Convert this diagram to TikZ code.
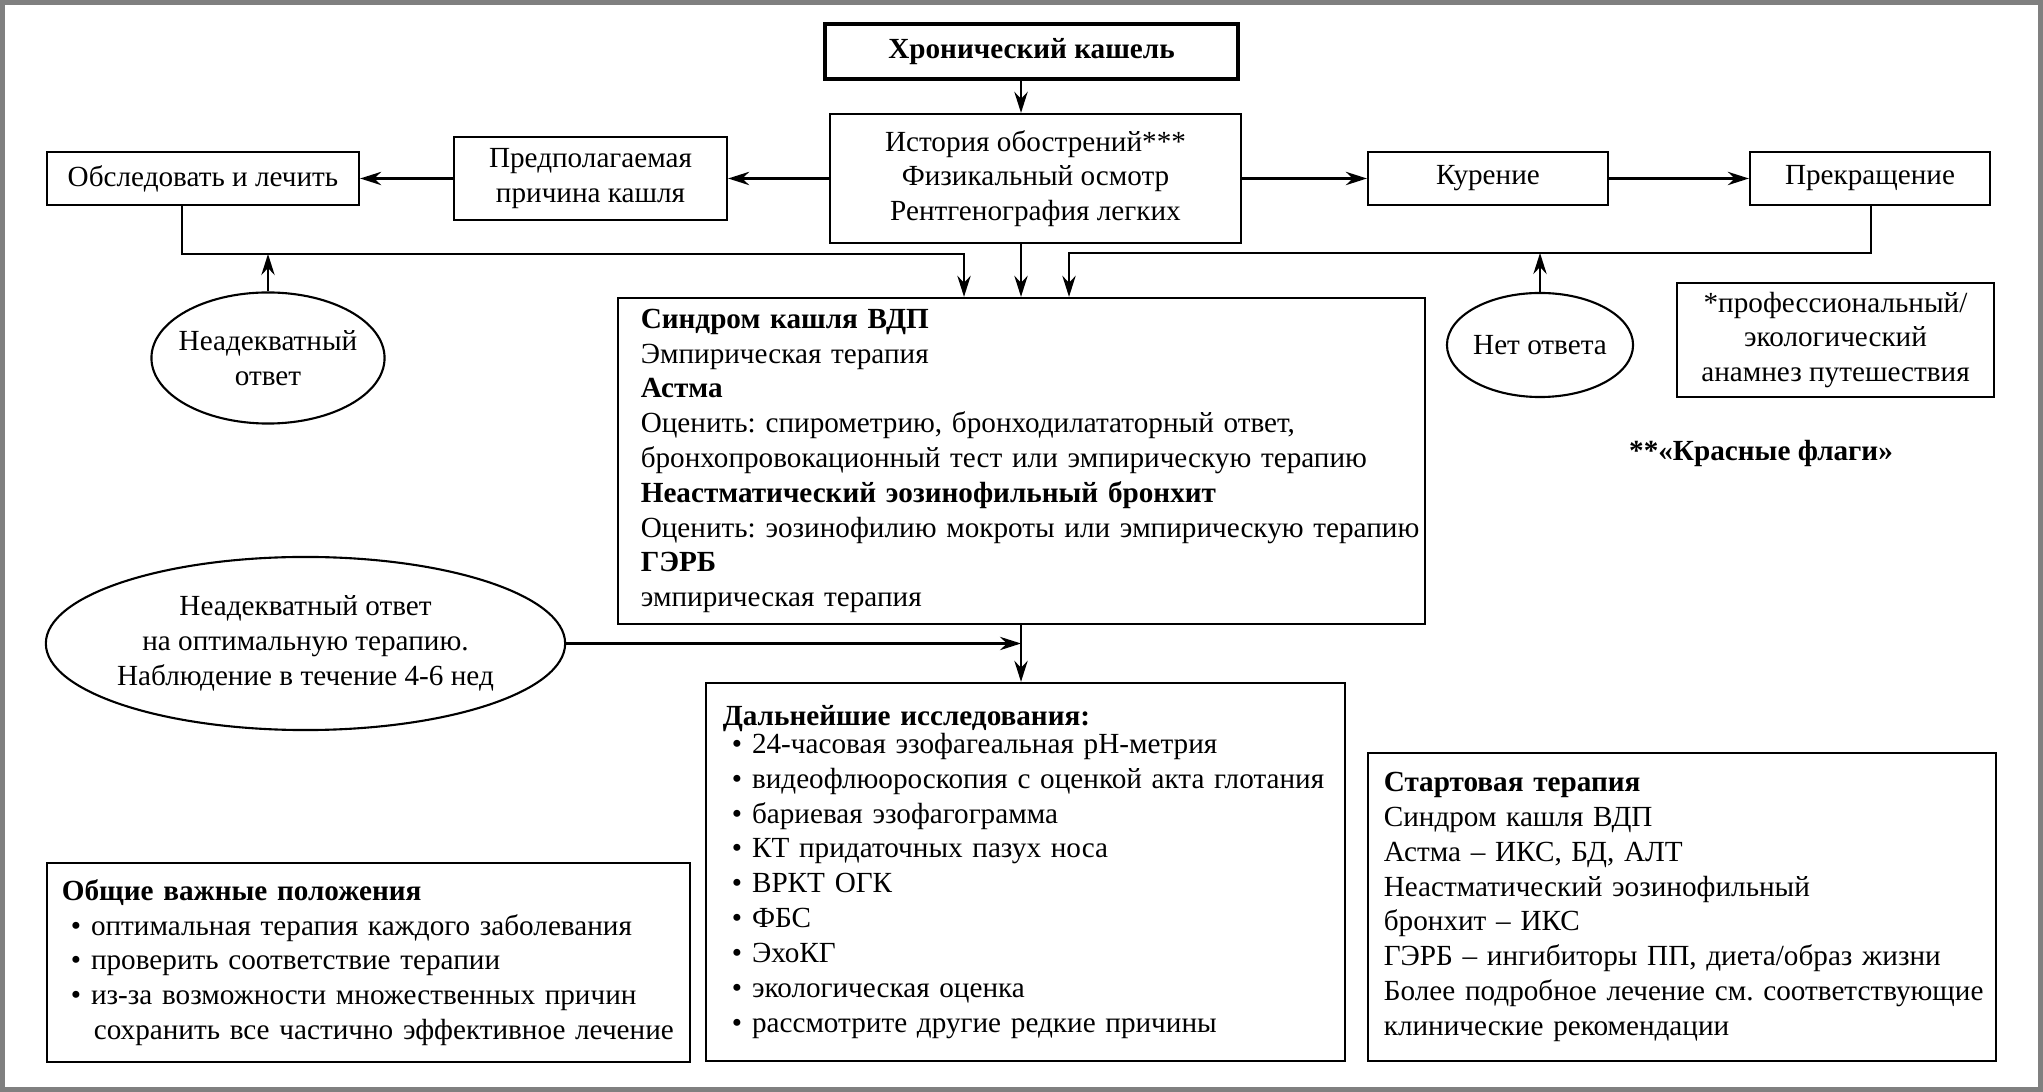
\documentclass[tikz,border=0pt]{standalone}
\usepackage{fontspec}
\setmainfont{Liberation Serif}
\usetikzlibrary{shapes.geometric,arrows.meta}
\newcommand{\itemDot}{\hspace*{0.09cm}\textbullet\hspace{0.1cm}}
\frenchspacing

\begin{document}
\begin{tikzpicture}
[x=0.01cm,y=-0.01cm,
  boxDecorate/.style={draw,line width=0.6pt,inner sep=0pt,align=center,
    font=\fontsize{8.3}{9.9}\selectfont},
  listDecorate/.style={boxDecorate,align=left,inner xsep=0.02cm},
  ovalDecorate/.style={ellipse,draw,line width=0.6pt,inner sep=-0.5cm,align=center,
    font=\fontsize{8.3}{9.9}\selectfont},
  arrowDecorate/.style={-{Stealth[length=6pt,width=3.8pt,inset=2pt]},line width=0.6pt}]
%% frame
\useasboundingbox (0,0) rectangle (2043,1092);
\draw[gray,line width=1.3pt] (2.3,2.3) rectangle (2040.7,1089.7);
%% top row
\node (chronic) at (1031.5,51.5) [boxDecorate,line width=1.2pt,minimum width=4.13cm,
  minimum height=0.55cm,font=\fontsize{8.3}{9.9}\selectfont\bfseries] {Хронический кашель};
\foreach \nodename/\x/\y/\w/\h/\txt in {
  obsl/203/178.5/3.12/0.53/{Обследовать и лечить},
  pred/590.5/178.5/2.73/0.83/{Предполагаемая\\причина кашля},
  hist/1035.5/178.5/4.11/1.29/{История обострений***\\Физикальный осмотр\\Рентгенография легких},
  kur/1488/178.5/2.40/0.53/{Курение},
  prekr/1870/178.5/2.40/0.53/{Прекращение}}
{
  \node (\nodename) at (\x,\y) [boxDecorate,minimum width=\w cm,minimum height=\h cm] {\txt};
}
\node (prof) at (1835.5,340) [boxDecorate,minimum width=3.17cm,minimum height=1.14cm]
  {*профессиональный/\\экологический\\анамнез путешествия};
\node (flags) at (1761,453) [font=\fontsize{8.3}{9.9}\selectfont\bfseries] {**«Красные флаги»};
%% ovals
\node (inadeq) at (268,358) [ovalDecorate,minimum width=2.33cm,minimum height=1.31cm]
  {Неадекватный\\ответ};
\node (noresp) at (1540,345) [ovalDecorate,minimum width=1.86cm,minimum height=1.04cm]
  {Нет ответа};
\node (optimal) at (305.5,643.5) [ovalDecorate,minimum width=5.19cm,minimum height=1.73cm]
  {Неадекватный ответ\\на оптимальную терапию.\\Наблюдение в течение 4-6 нед};
%% big boxes
\node (sindrom) at (1021.5,461) [listDecorate,text width=8.03cm,minimum height=3.26cm]
  {\leftskip=0.21cm
   \textbf{Синдром кашля ВДП}\\
   Эмпирическая терапия\\
   \textbf{Астма}\\
   Оценить: спирометрию, бронходилататорный ответ,\\
   бронхопровокационный тест или эмпирическую терапию\\
   \textbf{Неастматический эозинофильный бронхит}\\
   Оценить: эозинофилию мокроты или эмпирическую терапию\\
   \textbf{ГЭРБ}\\
   эмпирическая терапия\par};
\node (further) at (1025.5,872) [listDecorate,text width=6.35cm,minimum height=3.78cm]
  {\leftskip=0.15cm
   \textbf{Дальнейшие исследования:}\\[-2pt]
   \itemDot 24-часовая эзофагеальная pH-метрия\\
   \itemDot видеофлюороскопия с оценкой акта глотания\\
   \itemDot бариевая эзофагограмма\\
   \itemDot КТ придаточных пазух носа\\
   \itemDot ВРКТ ОГК\\
   \itemDot ФБС\\
   \itemDot ЭхоКГ\\
   \itemDot экологическая оценка\\
   \itemDot рассмотрите другие редкие причины\par};
\node (general) at (368.5,962.5) [listDecorate,text width=6.39cm,minimum height=1.99cm]
  {\leftskip=0.13cm
   \textbf{Общие важные положения}\\
   \itemDot оптимальная терапия каждого заболевания\\
   \itemDot проверить соответствие терапии\\
   \itemDot из-за возможности множественных причин\\
   \hspace*{0.32cm}сохранить все частично эффективное лечение\par};
\node (start) at (1682,907) [listDecorate,text width=6.24cm,minimum height=3.08cm]
  {\leftskip=0.14cm
   \textbf{Стартовая терапия}\\
   Синдром кашля ВДП\\
   Астма – ИКС, БД, АЛТ\\
   Неастматический эозинофильный\\
   бронхит – ИКС\\
   ГЭРБ – ингибиторы ПП, диета/образ жизни\\
   Более подробное лечение см. соответствующие\\
   клинические рекомендации\par};
%% bus corners
\coordinate (spine) at (1021,0);
\coordinate (busL) at (182,254);
\coordinate (busLd) at (964,254);
\coordinate (busR) at (1871,253);
\coordinate (busRd) at (1069,253);
%% connectors
\path
\foreach \startnode/\endnode in {hist/pred, pred/obsl, hist/kur, kur/prekr}
{
  (\startnode) edge[arrowDecorate] (\endnode)
};
\draw[arrowDecorate] (chronic.south -| spine) -- (hist.north -| spine);
\draw[arrowDecorate] (hist.south -| spine) -- (sindrom.north -| spine);
\draw[arrowDecorate] (obsl.south -| busL) -- (busL) -- (busLd) -- (sindrom.north -| busLd);
\draw[arrowDecorate] (prekr.south -| busR) -- (busR) -- (busRd) -- (sindrom.north -| busRd);
\draw[arrowDecorate] (inadeq.north) -- (inadeq.north |- busL);
\draw[arrowDecorate] (noresp.north) -- (noresp.north |- busR);
\draw[arrowDecorate] (sindrom.south -| spine) -- (further.north -| spine);
\draw[arrowDecorate] (optimal.east) -- (optimal.east -| spine);
\end{tikzpicture}
\end{document}
